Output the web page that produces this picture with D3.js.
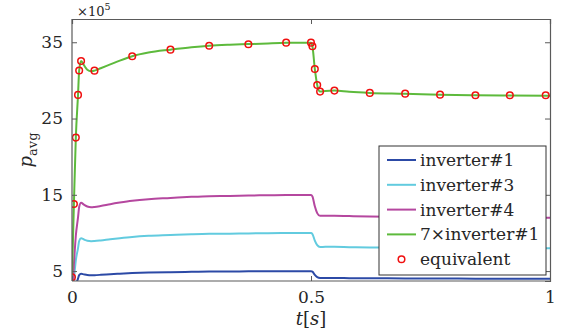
<!DOCTYPE html>
<html lang='en'>
<head>
  <meta charset='UTF-8'>
  <title>p_avg</title>
  <script src='https://d3js.org/d3.v7.min.js'></script>
  <style>
    body { margin: 0; background: #fff; }
    text { font-family: 'DejaVu Serif', serif; fill: #262626; }
  </style>
</head>
<body>
<svg id='chart' width='569' height='333'></svg>
<script>
  // time samples (s)
  const times = [0, 0.004, 0.008, 0.0126, 0.015, 0.019, 0.025, 0.032, 0.04, 0.047, 0.06, 0.08, 0.1, 0.126,
    0.16, 0.206, 0.25, 0.287, 0.33, 0.369, 0.41, 0.448, 0.5, 0.503, 0.508, 0.513, 0.519, 0.53, 0.549,
    0.58, 0.623, 0.697, 0.77, 0.844, 0.916, 1.0]

  // p_avg values, x 10^5
  const inv1 = [0.6, 1.97, 3.21, 4.01, 4.47, 4.65, 4.57, 4.49, 4.46, 4.47, 4.51, 4.59, 4.66, 4.74,
    4.81, 4.86, 4.91, 4.94, 4.95, 4.97, 4.98, 4.99, 4.99, 4.93, 4.5, 4.2, 4.08, 4.09, 4.09,
    4.07, 4.05, 4.04, 4.02, 4.01, 4.0, 4.0]
  const inv3 = [1.2, 3.94, 6.42, 8.02, 8.94, 9.3, 9.14, 8.98, 8.92, 8.94, 9.02, 9.18, 9.32, 9.48,
    9.62, 9.72, 9.82, 9.88, 9.9, 9.94, 9.96, 9.98, 9.98, 9.86, 9.0, 8.4, 8.16, 8.18, 8.18,
    8.14, 8.1, 8.08, 8.04, 8.02, 8.0, 8.0]
  const inv4 = [1.8, 5.91, 9.63, 12.03, 13.41, 13.95, 13.71, 13.47, 13.38, 13.41, 13.53, 13.77, 13.98, 14.22,
    14.43, 14.58, 14.73, 14.82, 14.85, 14.91, 14.94, 14.97, 14.97, 14.79, 13.5, 12.6, 12.24, 12.27, 12.27,
    12.21, 12.15, 12.12, 12.06, 12.03, 12.0, 12.0]
  const inv1x7 = [4.2, 13.8, 22.5, 28.1, 31.3, 32.55, 32.0, 31.4, 31.2, 31.28, 31.6, 32.1, 32.6, 33.17,
    33.65, 34.03, 34.35, 34.55, 34.68, 34.76, 34.85, 34.92, 34.95, 34.48, 31.5, 29.4, 28.53, 28.6, 28.66,
    28.5, 28.36, 28.26, 28.13, 28.05, 28.02, 28.0]

  // equivalent model markers
  const eqTimes = [0, 0.004, 0.008, 0.0126, 0.015, 0.019, 0.047, 0.126, 0.206, 0.287, 0.369, 0.448,
    0.5, 0.503, 0.508, 0.513, 0.519, 0.549, 0.623, 0.697, 0.77, 0.844, 0.916, 0.991]
  const eqValues = [4.2, 13.8, 22.5, 28.1, 31.3, 32.55, 31.28, 33.17, 34.03, 34.55, 34.74, 34.95,
    34.95, 34.48, 31.5, 29.4, 28.53, 28.66, 28.36, 28.26, 28.13, 28.05, 28.05, 28.05]

  const seriesNames = ['inverter#1', 'inverter#3', 'inverter#4', '7\u00d7inverter#1']
  const seriesColors = ['#2c4aa6', '#62cbdf', '#b5479f', '#5dba3c']
  const yTicks = [5, 15, 25, 35]
  const xTicks = [0, 0.5, 1]

  const margin = {top: 19, right: 19, bottom: 52, left: 72}
  const width = 569 - margin.left - margin.right
  const height = 333 - margin.top - margin.bottom

  const svg = d3.select('#chart')
  const g = svg.append('g').attr('transform', `translate(${margin.left},${margin.top})`)

  const x = d3.scaleLinear().domain([0, 1]).range([0, width])
  const y = d3.scaleLinear().domain([3.7, 38.05]).range([height, 0])

  g.append('clipPath').attr('id', 'clip')
    .append('rect').attr('width', width).attr('height', height)

  // lines
  const allSeries = [inv1, inv3, inv4, inv1x7]
  const line = d3.line()
    .x(d => x(d[0])).y(d => y(d[1]))
    .curve(d3.curveMonotoneX)

  const plot = g.append('g').attr('clip-path', 'url(#clip)')
  allSeries.forEach((vals, i) => {
    plot.append('path')
      .datum(times.map((t, j) => [t, vals[j]]))
      .attr('fill', 'none')
      .attr('stroke', seriesColors[i])
      .attr('stroke-width', 2)
      .attr('d', line)
  })

  plot.selectAll('circle.eq')
    .data(eqTimes.map((t, j) => [t, eqValues[j]]))
    .enter().append('circle')
      .attr('class', 'eq')
      .attr('cx', d => x(d[0]))
      .attr('cy', d => y(d[1]))
      .attr('r', 3.3)
      .attr('fill', 'none')
      .attr('stroke', '#f01010')
      .attr('stroke-width', 1.5)

  // axes, ticks inward on all four sides
  const axisColor = '#5a5a5a'
  const axL = g.append('g').call(d3.axisLeft(y).tickValues(yTicks).tickSize(-5).tickPadding(9))
  const axR = g.append('g').attr('transform', `translate(${width},0)`)
    .call(d3.axisRight(y).tickValues(yTicks).tickSize(-5).tickFormat(''))
  const axB = g.append('g').attr('transform', `translate(0,${height})`)
    .call(d3.axisBottom(x).tickValues(xTicks).tickSize(-5).tickPadding(10).tickFormat(d3.format('')))
  const axT = g.append('g')
    .call(d3.axisTop(x).tickValues(xTicks).tickSize(-5).tickFormat(''))

  ;[axL, axR, axB, axT].forEach(a => {
    a.select('.domain').attr('stroke', axisColor).attr('stroke-width', 1.2)
    a.selectAll('.tick line').attr('stroke', axisColor)
    a.selectAll('text').style('font-family', "'DejaVu Serif', serif")
      .style('font-size', '17px').attr('fill', '#262626')
  })
  axL.selectAll('.domain').attr('d', `M0,${height}V0`)
  axB.selectAll('.domain').attr('d', `M0,0H${width}`)

  // exponent label
  const ex = svg.append('text').attr('x', 77).attr('y', 16).style('font-size', '13px')
  ex.append('tspan').text('\u00d710')
  ex.append('tspan').attr('dy', -6).style('font-size', '9.5px').text('5')

  // axis labels
  const yl = svg.append('text')
    .attr('transform', `translate(32,${margin.top + height / 2}) rotate(-90)`)
    .attr('text-anchor', 'middle')
    .style('font-size', '18px')
  yl.append('tspan').style('font-style', 'italic').text('p')
  yl.append('tspan').attr('dy', 5).style('font-size', '13px').text('avg')

  const xl = svg.append('text')
    .attr('x', margin.left + x(0.5)).attr('y', 325)
    .attr('text-anchor', 'middle')
    .style('font-size', '18px')
  xl.append('tspan').style('font-style', 'italic').text('t')
  xl.append('tspan').text('[')
  xl.append('tspan').style('font-style', 'italic').text('s')
  xl.append('tspan').text(']')

  // legend
  const lg = svg.append('g').attr('transform', 'translate(379,146)')
  lg.append('rect')
    .attr('width', 167).attr('height', 129)
    .attr('fill', '#fff').attr('stroke', '#333').attr('stroke-width', 1)

  const legendNames = seriesNames.concat(['equivalent'])
  legendNames.forEach((name, i) => {
    const cy = 14 + i * 24.8
    if (i < seriesNames.length) {
      lg.append('line')
        .attr('x1', 8).attr('x2', 37).attr('y1', cy).attr('y2', cy)
        .attr('stroke', seriesColors[i]).attr('stroke-width', 2)
    } else {
      lg.append('circle')
        .attr('cx', 22.5).attr('cy', cy).attr('r', 3.3)
        .attr('fill', 'none').attr('stroke', '#f01010').attr('stroke-width', 1.5)
    }
    lg.append('text')
      .attr('x', 41).attr('y', cy + 6)
      .style('font-size', '17px')
      .text(name)
  })
</script>
</body>
</html>
